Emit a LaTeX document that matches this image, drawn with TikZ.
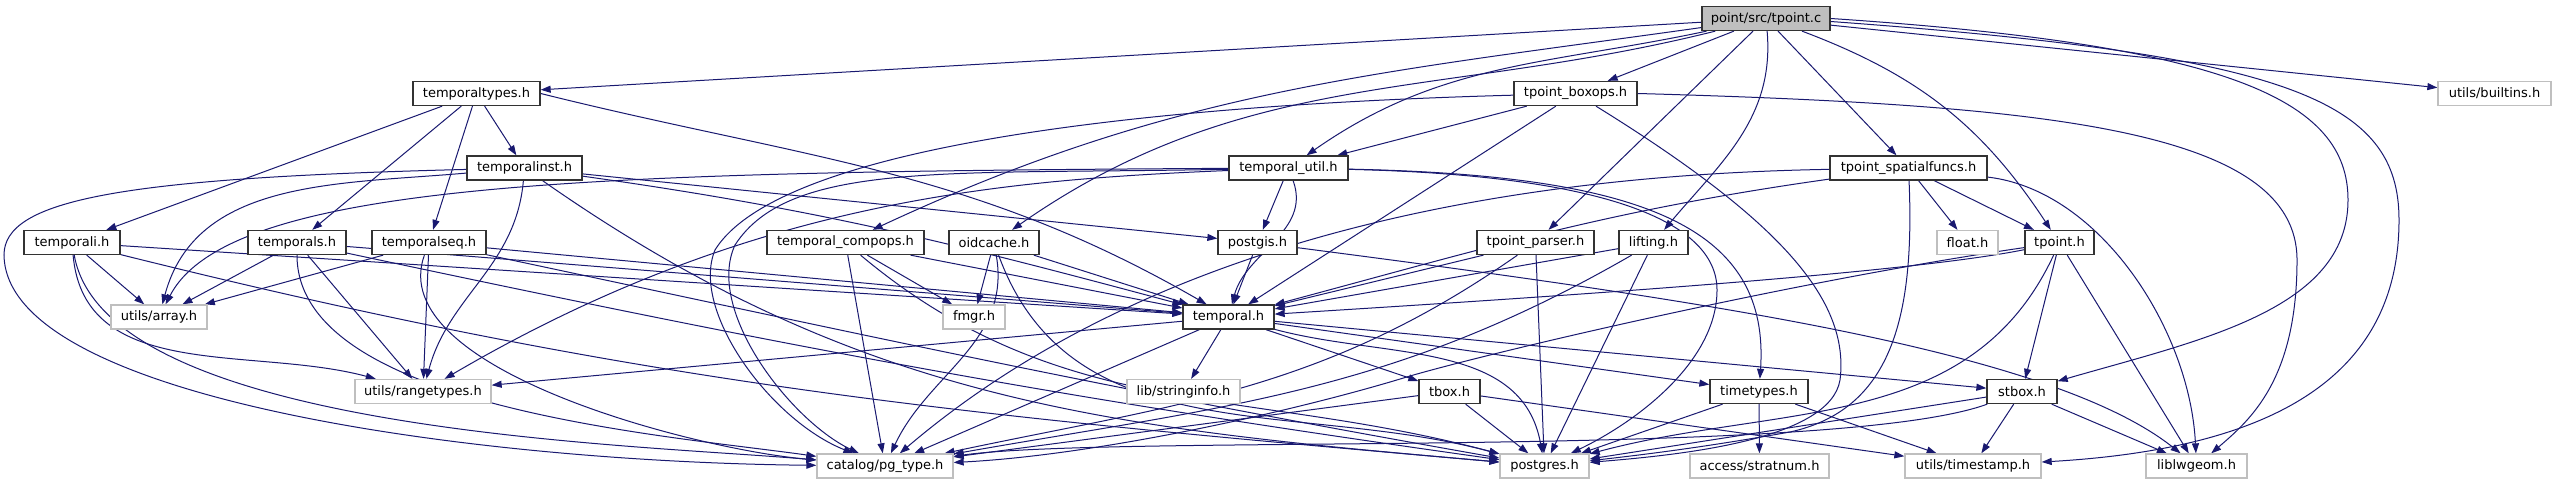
\documentclass[tikz,border=0pt]{standalone}
\usepackage{fontspec}
\setmainfont{DejaVu Sans}
\usetikzlibrary{arrows.meta}
\definecolor{mb}{HTML}{191970}
\definecolor{extgray}{HTML}{BFBFBF}
\definecolor{boxline}{HTML}{333333}
\pgfdeclarelayer{bg}
\pgfsetlayers{bg,main}
\tikzset{
  box/.style={draw=boxline, line width=0.65pt, fill=white, minimum height=12pt, inner sep=0pt,
    font=\fontsize{6.5pt}{7.5pt}\selectfont},
  extbox/.style={box, draw=extgray},
  rootbox/.style={box, fill=extgray},
  dep/.style={draw=mb, line width=0.5pt, -{Triangle[length=5pt,width=3.5pt]}},
}
\begin{document}
\begin{tikzpicture}[x=0.5pt,y=0.5pt]
\useasboundingbox (0,0) rectangle (2557,-485);
% row 0
\node[rootbox, minimum width=64pt] (tpointc) at (1766,-18.5) {point/src/tpoint.c};
% row 1
\node[box, minimum width=63.5pt] (temporaltypes) at (476.5,-93.5) {temporaltypes.h};
\node[box, minimum width=61.5pt] (boxops) at (1575.5,-93.5) {tpoint\_boxops.h};
\node[extbox, minimum width=56.5pt] (builtins) at (2494.5,-93.5) {utils/builtins.h};
% row 2
\node[box, minimum width=57.5pt] (temporalinst) at (524.5,-168) {temporalinst.h};
\node[box, minimum width=59.5pt] (tutil) at (1288.5,-168) {temporal\_util.h};
\node[box, minimum width=78.5pt] (spatialfuncs) at (1908.5,-168) {tpoint\_spatialfuncs.h};
% row 3
\node[box, minimum width=48pt] (temporali) at (72,-242.5) {temporali.h};
\node[box, minimum width=49pt] (temporals) at (297,-242.5) {temporals.h};
\node[box, minimum width=57pt] (temporalseq) at (429,-242.5) {temporalseq.h};
\node[box, minimum width=78.5pt] (compops) at (845.5,-242.5) {temporal\_compops.h};
\node[box, minimum width=45pt] (oidcache) at (994,-242.5) {oidcache.h};
\node[box, minimum width=39.5pt] (postgis) at (1257.5,-242.5) {postgis.h};
\node[box, minimum width=58.5pt] (parser) at (1535.5,-242.5) {tpoint\_parser.h};
\node[box, minimum width=34.5pt] (lifting) at (1653.5,-242.5) {lifting.h};
\node[extbox, minimum width=30.5pt] (float) at (1967.5,-242.5) {float.h};
\node[box, minimum width=34.5pt] (tpointh) at (2059.5,-242.5) {tpoint.h};
% row 4
\node[extbox, minimum width=48pt] (array) at (159,-317) {utils/array.h};
\node[extbox, minimum width=31pt] (fmgr) at (974,-317) {fmgr.h};
\node[box, minimum width=45.5pt] (temporal) at (1228.5,-317) {temporal.h};
% row 5
\node[extbox, minimum width=68pt] (rangetypes) at (423,-391.5) {utils/rangetypes.h};
\node[extbox, minimum width=56.5pt] (stringinfo) at (1183.5,-391.5) {lib/stringinfo.h};
\node[box, minimum width=30.5pt] (tbox) at (1449.5,-391.5) {tbox.h};
\node[box, minimum width=49pt] (timetypes) at (1759,-391.5) {timetypes.h};
\node[box, minimum width=35pt] (stbox) at (2022,-391.5) {stbox.h};
% row 6
\node[extbox, minimum width=68pt] (pgtype) at (885,-466) {catalog/pg\_type.h};
\node[extbox, minimum width=44.5pt] (postgres) at (1544.5,-466) {postgres.h};
\node[extbox, minimum width=69.5pt] (stratnum) at (1759.5,-466) {access/stratnum.h};
\node[extbox, minimum width=68pt] (timestamp) at (1973,-466) {utils/timestamp.h};
\node[extbox, minimum width=50.5pt] (liblwgeom) at (2196.5,-466) {liblwgeom.h};

\begin{pgfonlayer}{bg}
\fill[white] (0,0) rectangle (2557,-485);
% tpoint.c
\draw[dep] (tpointc) -- (temporaltypes);
\draw[dep] (tpointc) -- (boxops);
\draw[dep] (tpointc) to[out=192,in=35] (tutil);
\draw[dep] (tpointc) to[out=188,in=25] (compops);
\draw[dep] (tpointc) to[out=194,in=35] (oidcache);
\draw[dep] (tpointc) -- (parser);
\draw[dep] (tpointc) to[out=-85,in=50] (lifting);
\draw[dep] (tpointc) -- (spatialfuncs);
\draw[dep] (tpointc) to[bend left=18] (tpointh);
\draw[dep] (tpointc) -- (builtins);
\draw[dep] (tpointc.east) .. controls (2230,-45) and (2348,-100) .. (2348,-200) .. controls (2348,-310) and (2200,-340) .. (stbox);
\draw[dep] ([yshift=-1.5pt]tpointc.east) .. controls (2290,-55) and (2399,-100) .. (2399,-220) .. controls (2399,-390) and (2250,-450) .. (timestamp);
% temporaltypes.h
\draw[dep] (temporaltypes) -- (temporali);
\draw[dep] (temporaltypes) -- (temporals);
\draw[dep] (temporaltypes) -- (temporalseq);
\draw[dep] (temporaltypes) -- (temporalinst);
\draw[dep] (temporaltypes.east) to[out=-14,in=150] (temporal);
% temporalinst.h
\draw[dep] (temporalinst) .. controls (120,-178) and (4,-200) .. (4,-255) .. controls (6,-400) and (480,-462) .. (pgtype);
\draw[dep] (temporalinst) to[out=185,in=75] (array);
\draw[dep] (temporalinst) to[out=-95,in=75] (rangetypes);
\draw[dep] (temporalinst) to[out=-35,in=175] (postgres);
\draw[dep] (temporalinst) to[out=-8,in=165] (temporal);
\draw[dep] (temporalinst) -- (postgis);
% temporali.h
\draw[dep] (temporali) -- (array);
\draw[dep] (temporali) to[out=-85,in=165] (rangetypes);
\draw[dep] (temporali) to[out=-80,in=175,looseness=0.6] (pgtype);
\draw[dep] (temporali) to[out=-14,in=175] (postgres);
\draw[dep] (temporali) -- (temporal);
% temporals.h
\draw[dep] (temporals) -- (array);
\draw[dep] (temporals) to[out=-90,in=172,looseness=0.7] (pgtype);
\draw[dep] (temporals) -- (rangetypes);
\draw[dep] (temporals) -- (temporal);
\draw[dep] (temporals) to[out=-12,in=172] (postgres);
% temporalseq.h
\draw[dep] (temporalseq) -- (array);
\draw[dep] (temporalseq) to[out=-110,in=175,looseness=0.7] (pgtype);
\draw[dep] (temporalseq) -- (rangetypes);
\draw[dep] (temporalseq) -- (temporal);
\draw[dep] (temporalseq) to[out=-12,in=170] (postgres);
% temporal_compops.h
\draw[dep] (compops) -- (pgtype);
\draw[dep] (compops) -- (fmgr);
\draw[dep] (compops) to[out=-40,in=165] (postgres);
\draw[dep] (compops) -- (temporal);
% oidcache.h
\draw[dep] (oidcache) -- (fmgr);
\draw[dep] (oidcache) to[out=-80,in=65] (pgtype);
\draw[dep] (oidcache) to[out=-70,in=165] (postgres);
\draw[dep] (oidcache) -- (temporal);
% postgis.h
\draw[dep] (postgis) -- (temporal);
\draw[dep] (postgis) .. controls (1700,-300) and (2050,-350) .. (liblwgeom);
% tpoint_parser.h
\draw[dep] (parser) -- (temporal);
\draw[dep] (parser) to[out=-145,in=12] (pgtype);
\draw[dep] (parser) -- (postgres);
% lifting.h
\draw[dep] (lifting) -- (temporal);
\draw[dep] (lifting) to[out=-150,in=10] (pgtype);
\draw[dep] (lifting) -- (postgres);
% tpoint_spatialfuncs.h
\draw[dep] (spatialfuncs) to[out=188,in=15] (temporal);
\draw[dep] (spatialfuncs) .. controls (1500,-175) and (1150,-240) .. (pgtype);
\draw[dep] (spatialfuncs) .. controls (1915,-320) and (1890,-410) .. (1790,-432) .. controls (1700,-448) and (1640,-455) .. (postgres);
\draw[dep] (spatialfuncs) -- (float);
\draw[dep] (spatialfuncs) -- (tpointh);
\draw[dep] (spatialfuncs) .. controls (2100,-190) and (2190,-330) .. (liblwgeom);
% tpoint.h
\draw[dep] (tpointh) .. controls (1900,-275) and (1500,-300) .. (temporal);
\draw[dep] (tpointh) .. controls (1800,-280) and (1500,-350) .. (1410,-376) .. controls (1300,-410) and (1100,-455) .. (pgtype);
\draw[dep] (tpointh) to[out=-115,in=15] (postgres);
\draw[dep] (tpointh) -- (stbox);
\draw[dep] (tpointh) -- (liblwgeom);
% stbox.h
\draw[dep] (stbox) -- (postgres);
\draw[dep] (stbox) to[out=200,in=8,looseness=0.4] (pgtype);
\draw[dep] (stbox) -- (timestamp);
\draw[dep] (stbox) -- (liblwgeom);
% timetypes.h
\draw[dep] (timetypes) -- (postgres);
\draw[dep] (timetypes) -- (stratnum);
\draw[dep] (timetypes) -- (timestamp);
% tbox.h
\draw[dep] (tbox) -- (pgtype);
\draw[dep] (tbox) -- (postgres);
\draw[dep] (tbox) -- (timestamp);
% temporal.h
\draw[dep] (temporal) -- (rangetypes);
\draw[dep] (temporal) -- (pgtype);
\draw[dep] (temporal) -- (stringinfo);
\draw[dep] (temporal) -- (tbox);
\draw[dep] (temporal) -- (stbox);
\draw[dep] (temporal) -- (timetypes);
\draw[dep] (temporal) to[out=-15,in=100] (postgres);
% temporal_util.h
\draw[dep] (tutil) .. controls (600,-172) and (230,-180) .. (array);
\draw[dep] (tutil) .. controls (1000,-180) and (750,-200) .. (rangetypes);
\draw[dep] (tutil) .. controls (950,-175) and (790,-160) .. (735,-245) .. controls (705,-310) and (790,-420) .. (pgtype);
\draw[dep] (tutil) -- (postgis);
\draw[dep] (tutil) to[out=-70,in=75] (temporal);
\draw[dep] (tutil) .. controls (1650,-175) and (1770,-230) .. (timetypes);
\draw[dep] (tutil) .. controls (1600,-175) and (1717,-220) .. (1717,-290) .. controls (1717,-360) and (1640,-420) .. (postgres);
% tpoint_boxops.h
\draw[dep] (boxops) -- (tutil);
\draw[dep] (boxops) -- (temporal);
\draw[dep] (boxops) .. controls (1150,-105) and (780,-145) .. (715,-250) .. controls (690,-310) and (770,-420) .. (pgtype);
\draw[dep] (boxops) .. controls (1780,-220) and (1850,-300) .. (1840,-380) .. controls (1830,-440) and (1680,-455) .. (postgres);
\draw[dep] (boxops.east) .. controls (2050,-105) and (2297,-130) .. (2297,-260) .. controls (2297,-380) and (2250,-420) .. (liblwgeom);
\end{pgfonlayer}
\end{tikzpicture}
\end{document}
